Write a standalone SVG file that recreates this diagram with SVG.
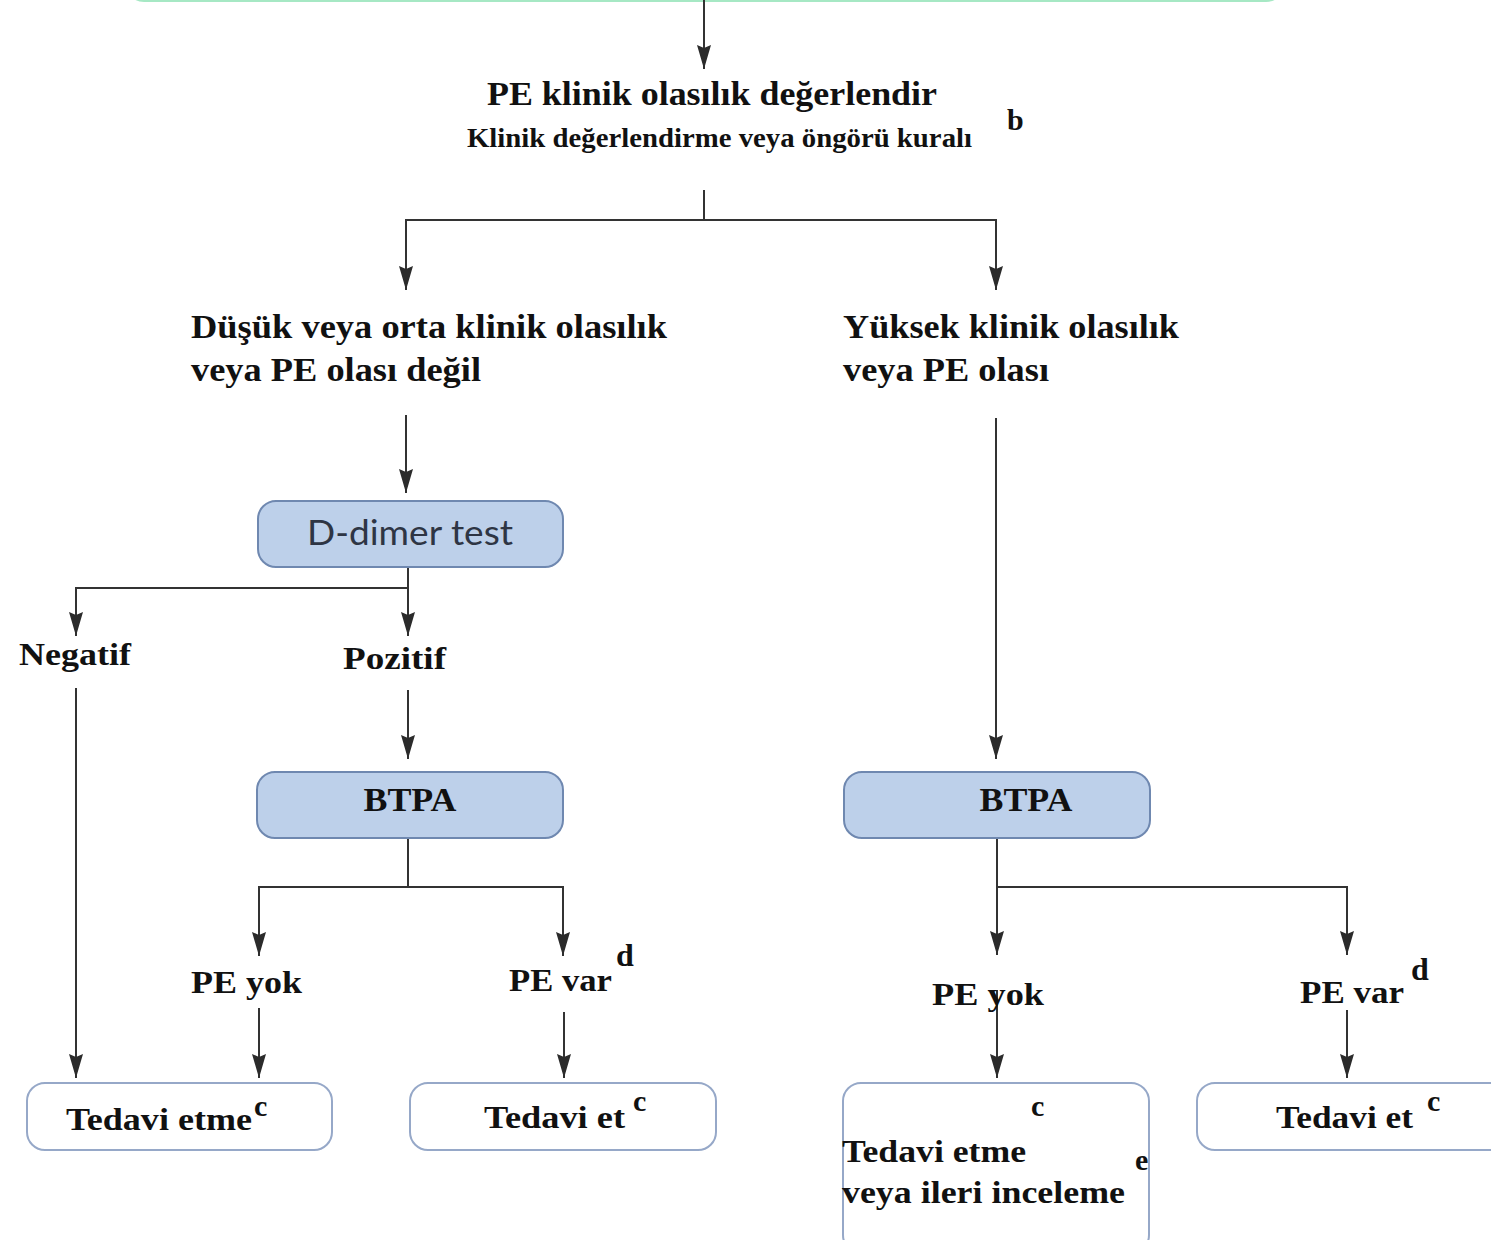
<svg xmlns="http://www.w3.org/2000/svg" width="1491" height="1240" viewBox="0 0 1491 1240">
<defs>
<marker id="ah" viewBox="0 0 24 14" refX="24" refY="7" markerWidth="24" markerHeight="14" markerUnits="userSpaceOnUse" orient="auto">
<path d="M0,0 L24,7 L0,14 L3,7 Z" fill="#2b2b2b"/>
</marker>
<style>
.ln{fill:none;stroke:#333;stroke-width:2}
.ar{fill:none;stroke:#333;stroke-width:2;marker-end:url(#ah)}
.bx{fill:#bdd0ea;stroke:#6f88b0;stroke-width:2}
.wb{fill:#fff;stroke:#96a8c8;stroke-width:2}
.t{font-family:"Liberation Serif","Times New Roman",serif;font-weight:bold;fill:#111}
.s{font-family:"Liberation Serif","Times New Roman",serif;fill:#111}
.g{font-family:Lato,"Open Sans",sans-serif;fill:#2e3544}
</style>
</defs>
<rect width="1491" height="1240" fill="#fff"/>
<g id="top-box"><rect x="126" y="-60" width="1158" height="61" rx="18" fill="#fff" stroke="#a6e8c4" stroke-width="2"/></g>
<g id="connectors">
<line class="ar" x1="704" y1="0" x2="704" y2="69"/>
<polyline class="ln" points="704,190 704,220"/>
<polyline class="ar" points="704,220 406,220 406,290"/>
<polyline class="ar" points="704,220 996,220 996,290"/>
<line class="ar" x1="406" y1="415" x2="406" y2="493"/>
<polyline class="ln" points="408,567 408,588"/>
<polyline class="ar" points="408,588 76,588 76,636"/>
<line class="ar" x1="408" y1="588" x2="408" y2="636"/>
<line class="ar" x1="76" y1="688" x2="76" y2="1078"/>
<line class="ar" x1="408" y1="690" x2="408" y2="759"/>
<polyline class="ln" points="408,838 408,887"/>
<polyline class="ar" points="408,887 259,887 259,956"/>
<polyline class="ar" points="408,887 563,887 563,956"/>
<line class="ar" x1="259" y1="1008" x2="259" y2="1078"/>
<line class="ar" x1="564" y1="1012" x2="564" y2="1078"/>
<line class="ar" x1="996" y1="418" x2="996" y2="759"/>
<polyline class="ln" points="997,838 997,887"/>
<line class="ar" x1="997" y1="887" x2="997" y2="955"/>
<polyline class="ar" points="997,887 1347,887 1347,955"/>
<line class="ar" x1="997" y1="990" x2="997" y2="1078"/>
<line class="ar" x1="1347" y1="1010" x2="1347" y2="1078"/>
</g>
<g id="assess">
<text class="t" x="487" y="105" font-size="34" textLength="450" lengthAdjust="spacingAndGlyphs">PE klinik olasılık değerlendir</text>
<text class="s" x="467" y="147" font-size="28" textLength="505" lengthAdjust="spacingAndGlyphs" style="font-weight:bold">Klinik değerlendirme veya öngörü kuralı</text>
<text class="t" x="1007" y="130" font-size="30">b</text>
</g>
<g id="low">
<text class="t" x="191" y="338" font-size="34" textLength="476" lengthAdjust="spacingAndGlyphs">Düşük veya orta klinik olasılık</text>
<text class="t" x="191" y="381" font-size="34" textLength="290" lengthAdjust="spacingAndGlyphs">veya PE olası değil</text>
</g>
<g id="high">
<text class="t" x="843" y="338" font-size="34" textLength="336" lengthAdjust="spacingAndGlyphs">Yüksek klinik olasılık</text>
<text class="t" x="843" y="381" font-size="34" textLength="206" lengthAdjust="spacingAndGlyphs">veya PE olası</text>
</g>
<g id="ddimer">
<rect class="bx" x="258" y="501" width="305" height="66" rx="18"/>
<text class="g" x="410" y="545" font-size="34" text-anchor="middle" textLength="206" lengthAdjust="spacingAndGlyphs">D-dimer test</text>
</g>
<g id="negatif"><text class="t" x="19" y="665" font-size="32" textLength="112" lengthAdjust="spacingAndGlyphs">Negatif</text></g>
<g id="pozitif"><text class="t" x="343" y="669" font-size="32" textLength="103" lengthAdjust="spacingAndGlyphs">Pozitif</text></g>
<g id="btpa-left">
<rect class="bx" x="257" y="772" width="306" height="66" rx="18"/>
<text class="t" x="410" y="811" font-size="34" text-anchor="middle" textLength="93" lengthAdjust="spacingAndGlyphs">BTPA</text>
</g>
<g id="btpa-right">
<rect class="bx" x="844" y="772" width="306" height="66" rx="18"/>
<text class="t" x="1026" y="811" font-size="34" text-anchor="middle" textLength="93" lengthAdjust="spacingAndGlyphs">BTPA</text>
</g>
<g id="peyok-left"><text class="t" x="191" y="993" font-size="32" textLength="111" lengthAdjust="spacingAndGlyphs">PE yok</text></g>
<g id="pevar-left">
<text class="t" x="509" y="991" font-size="32" textLength="103" lengthAdjust="spacingAndGlyphs">PE var</text>
<text class="t" x="616" y="966" font-size="32">d</text>
</g>
<g id="peyok-right"><text class="t" x="932" y="1005" font-size="32" textLength="112" lengthAdjust="spacingAndGlyphs">PE yok</text></g>
<g id="pevar-right">
<text class="t" x="1300" y="1003" font-size="32" textLength="104" lengthAdjust="spacingAndGlyphs">PE var</text>
<text class="t" x="1411" y="980" font-size="32">d</text>
</g>
<g id="tedavi-etme-1">
<rect class="wb" x="27" y="1083" width="305" height="67" rx="18"/>
<text class="t" x="66" y="1130" font-size="32" textLength="186" lengthAdjust="spacingAndGlyphs">Tedavi etme</text>
<text class="t" x="254" y="1116" font-size="30">c</text>
</g>
<g id="tedavi-et-1">
<rect class="wb" x="410" y="1083" width="306" height="67" rx="18"/>
<text class="t" x="484" y="1128" font-size="32" textLength="141" lengthAdjust="spacingAndGlyphs">Tedavi et</text>
<text class="t" x="633" y="1111" font-size="30">c</text>
</g>
<g id="tedavi-etme-2">
<rect class="wb" x="843" y="1083" width="306" height="170" rx="18"/>
<text class="t" x="1031" y="1116" font-size="30">c</text>
<text class="t" x="842" y="1162" font-size="32" textLength="184" lengthAdjust="spacingAndGlyphs">Tedavi etme</text>
<text class="t" x="842" y="1203" font-size="32" textLength="283" lengthAdjust="spacingAndGlyphs">veya ileri inceleme</text>
<text class="t" x="1135" y="1170" font-size="30">e</text>
</g>
<g id="tedavi-et-2">
<rect class="wb" x="1197" y="1083" width="310" height="67" rx="18"/>
<text class="t" x="1276" y="1128" font-size="32" textLength="137" lengthAdjust="spacingAndGlyphs">Tedavi et</text>
<text class="t" x="1427" y="1111" font-size="30">c</text>
</g>
</svg>
